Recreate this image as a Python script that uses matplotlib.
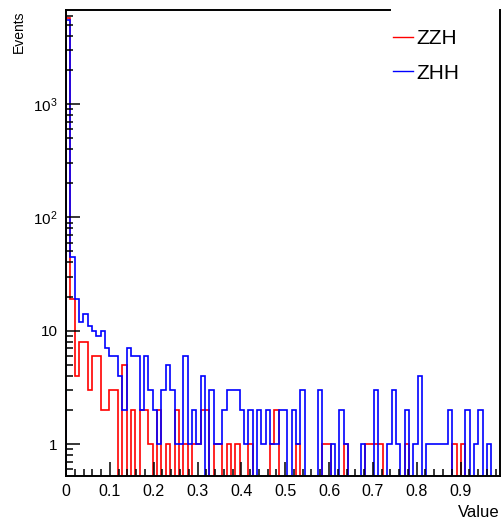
import numpy as np
import matplotlib.pyplot as plt
from matplotlib.lines import Line2D
from matplotlib.ticker import FixedLocator, FixedFormatter, MultipleLocator, LogLocator, NullFormatter

plt.rcParams['font.family'] = 'Liberation Sans'
plt.rcParams['mathtext.fontset'] = 'custom'
plt.rcParams['mathtext.rm'] = 'Liberation Sans'

# histogram range: 100 bins
x_lo, x_hi, n_bins = 0.0, 0.99, 100

zzh = [5700, 19, 4, 8, 8, 3, 6, 6, 2, 2,
       3, 3, 0, 5, 0, 2, 0, 2, 2, 1,
       0, 2, 0, 1, 0, 2, 0, 1, 0, 1,
       1, 2, 2, 0, 1, 1, 0, 1, 0, 1,
       0, 0, 1, 0, 0, 0, 0, 1, 2, 0,
       0, 0, 0, 1, 0, 0, 0, 0, 0, 1,
       1, 0, 0, 0, 1, 0, 0, 0, 0, 1,
       1, 1, 1, 0, 0, 0, 0, 0, 1, 0,
       0, 0, 0, 0, 0, 0, 0, 0, 0, 1,
       0, 1, 0, 0, 0, 0, 0, 0, 0, 0]

zhh = [5500, 45, 19, 12, 14, 11, 10, 9, 10, 7,
       6, 6, 4, 2, 7, 6, 6, 2, 6, 3,
       2, 1, 3, 5, 3, 1, 1, 6, 1, 2,
       1, 4, 0, 3, 1, 1, 2, 3, 3, 3,
       2, 1, 2, 0, 2, 1, 2, 1, 1, 2,
       2, 0, 2, 1, 3, 0, 0, 0, 3, 0,
       0, 1, 0, 2, 1, 0, 0, 0, 1, 0,
       0, 3, 0, 0, 1, 3, 1, 0, 2, 0,
       1, 4, 0, 1, 1, 1, 1, 1, 2, 0,
       0, 0, 2, 0, 1, 2, 0, 1, 0, 0]

x_ticks = [0, 0.1, 0.2, 0.3, 0.4, 0.5, 0.6, 0.7, 0.8, 0.9]
x_tick_labels = ['0', '0.1', '0.2', '0.3', '0.4', '0.5', '0.6', '0.7', '0.8', '0.9']
y_ticks = [1, 10, 100, 1000]
y_tick_labels = ['1', '10', r'$\mathregular{10^{2}}$', r'$\mathregular{10^{3}}$']

fig = plt.figure(figsize=(5.03, 5.19), dpi=100)
ax = fig.add_axes([66 / 503, 43 / 519, 434 / 503, 466 / 519])

edges = np.linspace(x_lo, x_hi, n_bins + 1)
floor = 1e-3  # empty bins drop to the bottom of the log axis
ax.stairs(np.where(np.array(zzh) > 0, zzh, floor), edges, baseline=floor,
          color='#ff0000', lw=1.2)
ax.stairs(np.where(np.array(zhh) > 0, zhh, floor), edges, baseline=floor,
          color='#0000ff', lw=1.2)

ax.set_yscale('log')
ax.set_xlim(x_lo, x_hi)
ax.set_ylim(0.522, 6760)

ax.xaxis.set_major_locator(FixedLocator(x_ticks))
ax.xaxis.set_major_formatter(FixedFormatter(x_tick_labels))
ax.xaxis.set_minor_locator(MultipleLocator(0.02))
ax.yaxis.set_major_locator(FixedLocator(y_ticks))
ax.yaxis.set_major_formatter(FixedFormatter(y_tick_labels))
ax.yaxis.set_minor_locator(LogLocator(base=10, subs=np.arange(2, 10)))
ax.yaxis.set_minor_formatter(NullFormatter())

ax.tick_params(which='both', direction='in', top=False, right=False, width=1.1)
ax.tick_params(which='major', length=10, pad=6)
ax.tick_params(axis='x', which='major', labelsize=11.5)
ax.tick_params(axis='y', which='major', labelsize=11)
ax.tick_params(which='minor', length=5)

for s in ax.spines.values():
    s.set_linewidth(1.4)
ax.spines['top'].set_bounds(x_lo, 0.739)

ax.set_xlabel('Value', loc='right', fontsize=12, labelpad=4)
ax.set_ylabel('Events', loc='top', fontsize=10)
ax.yaxis.set_label_coords(-0.093, 1.0)

handles = [Line2D([], [], color='#ff0000', lw=1.0),
           Line2D([], [], color='#0000ff', lw=1.0)]
fig.legend(handles, ['ZZH', 'ZHH'], loc='upper left',
           bbox_to_anchor=(393 / 503, 1 - 29 / 519), bbox_transform=fig.transFigure,
           frameon=False, fontsize=15, handlelength=0.95, handletextpad=0.15,
           labelspacing=0.75, borderpad=0, borderaxespad=0)

fig.savefig('out.png', dpi=100)
